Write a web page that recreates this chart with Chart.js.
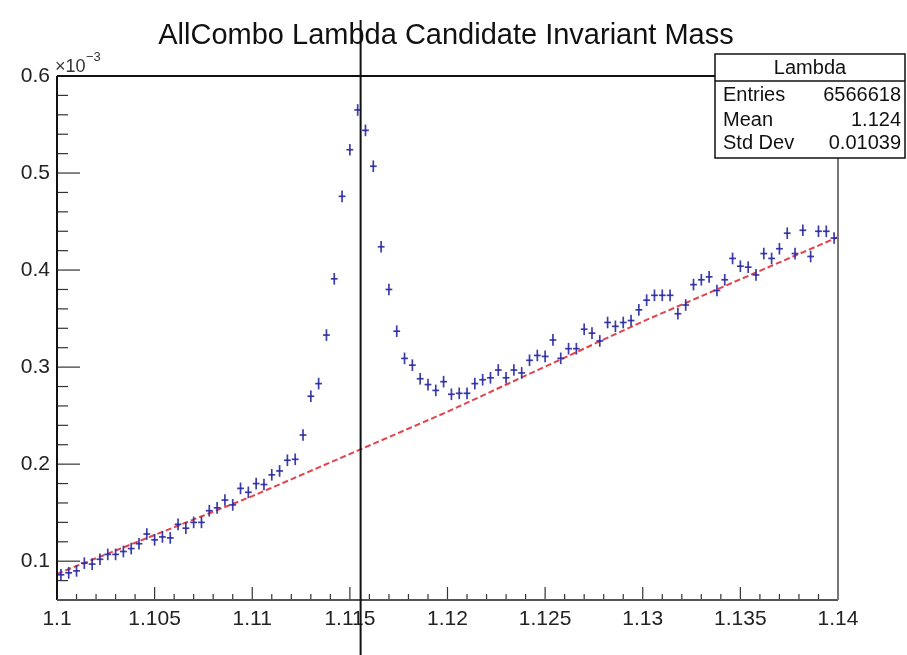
<!DOCTYPE html>
<html>
<head>
<meta charset="utf-8">
<script src="https://cdn.jsdelivr.net/npm/chart.js@4.4.1/dist/chart.umd.min.js"></script>
<style>
  body { margin: 0; background: #fff; }
  #c { display: block; }
</style>
</head>
<body>
<canvas id="c" width="907" height="655"></canvas>
<script>
// histogram: 100 bins from 1.1 to 1.14, values in units of 1e-3
const binLow = 1.1;
const binWidth = 0.0004;
const counts = [
  0.086, 0.088, 0.090, 0.098, 0.097, 0.102, 0.107, 0.107, 0.110, 0.113,
  0.118, 0.128, 0.122, 0.125, 0.124, 0.138, 0.134, 0.140, 0.140, 0.152,
  0.155, 0.163, 0.158, 0.175, 0.171, 0.180, 0.179, 0.189, 0.193, 0.204,
  0.205, 0.230, 0.270, 0.283, 0.333, 0.391, 0.476, 0.524, 0.565, 0.544,
  0.507, 0.424, 0.380, 0.337, 0.309, 0.302, 0.288, 0.282, 0.276, 0.285,
  0.272, 0.273, 0.273, 0.283, 0.287, 0.289, 0.297, 0.289, 0.297, 0.294,
  0.307, 0.312, 0.311, 0.328, 0.309, 0.319, 0.319, 0.339, 0.335, 0.327,
  0.346, 0.342, 0.346, 0.348, 0.359, 0.369, 0.374, 0.374, 0.374, 0.355,
  0.364, 0.385, 0.390, 0.393, 0.379, 0.390, 0.412, 0.404, 0.403, 0.395,
  0.417, 0.412, 0.422, 0.438, 0.417, 0.441, 0.414, 0.440, 0.440, 0.433
];
const yErr = 0.006;

// background fit (red line)
const fitX = [1.1, 1.11, 1.12, 1.13, 1.14];
const fitY = [0.087, 0.167, 0.254, 0.347, 0.434];

const xTicks = [1.1, 1.105, 1.11, 1.115, 1.12, 1.125, 1.13, 1.135, 1.14];
const yTicks = [0.1, 0.2, 0.3, 0.4, 0.5, 0.6];
const lambdaMass = 1.11555;

const title = 'AllCombo Lambda Candidate Invariant Mass';
const statTitle = 'Lambda';
const statNames = ['Entries', 'Mean', 'Std Dev'];
const statValues = ['6566618', '1.124', '0.01039'];

const FONT = '"Liberation Sans", Arial, sans-serif';

const points = counts.map((v, i) => ({ x: binLow + (i + 0.5) * binWidth, y: v }));
const fitLine = fitX.map((x, i) => ({ x: x, y: fitY[i] }));

function line(ctx, x1, y1, x2, y2) {
  ctx.beginPath();
  ctx.moveTo(x1, y1);
  ctx.lineTo(x2, y2);
  ctx.stroke();
}

const rootPlugin = {
  id: 'rootStyle',
  afterDatasetsDraw(chart) {
    const ctx = chart.ctx;
    const xs = chart.scales.x, ys = chart.scales.y;
    const a = chart.chartArea;
    ctx.save();

    // data points with error bars
    ctx.strokeStyle = 'rgba(40,40,160,0.9)';
    ctx.lineWidth = 1.7;
    points.forEach(p => {
      const px = xs.getPixelForValue(p.x);
      const py = ys.getPixelForValue(p.y);
      line(ctx, xs.getPixelForValue(p.x - binWidth / 2) + 0.5, py, xs.getPixelForValue(p.x + binWidth / 2) - 0.5, py);
      line(ctx, px, ys.getPixelForValue(p.y - yErr), px, ys.getPixelForValue(p.y + yErr));
    });

    // ticks
    ctx.strokeStyle = '#333';
    ctx.lineWidth = 1.2;
    for (let k = 0; k <= 40; k++) {
      const v = 1.1 + k * 0.001;
      const px = xs.getPixelForValue(v);
      const len = k % 5 === 0 ? 13 : 6;
      line(ctx, px, a.bottom, px, a.bottom - len);
    }
    for (let k = 3; k <= 30; k++) {
      const v = k * 0.02;
      const py = ys.getPixelForValue(v);
      const len = k % 5 === 0 ? 23 : 11;
      line(ctx, a.left, py, a.left + len, py);
    }

    // frame
    ctx.lineWidth = 2;
    ctx.strokeStyle = '#111';
    line(ctx, a.left, a.top, a.right, a.top);
    line(ctx, a.left, a.top, a.left, a.bottom);
    ctx.strokeStyle = '#555';
    line(ctx, a.left, a.bottom, a.right, a.bottom);
    ctx.strokeStyle = '#777';
    line(ctx, a.right, a.top, a.right, a.bottom);

    // lambda mass marker
    ctx.strokeStyle = '#111';
    ctx.lineWidth = 2;
    const lx = xs.getPixelForValue(lambdaMass);
    line(ctx, lx, 20, lx, chart.height);

    // title
    ctx.fillStyle = '#111';
    ctx.font = '29px ' + FONT;
    ctx.textAlign = 'center';
    ctx.textBaseline = 'middle';
    ctx.fillText(title, 446, 36);

    // exponent label
    ctx.textAlign = 'left';
    ctx.font = '18px ' + FONT;
    ctx.fillStyle = '#333';
    ctx.fillText('\u00d710', 55, 67);
    ctx.font = '13px ' + FONT;
    ctx.fillText('\u22123', 86, 57);

    // stats box
    const bx = 715, by = 54, bw = 190, bh = 104;
    ctx.fillStyle = '#fff';
    ctx.fillRect(bx, by, bw, bh);
    ctx.strokeStyle = '#111';
    ctx.lineWidth = 1.5;
    ctx.strokeRect(bx, by, bw, bh);
    line(ctx, bx, 81, bx + bw, 81);
    ctx.fillStyle = '#111';
    ctx.font = '20px ' + FONT;
    ctx.textAlign = 'center';
    ctx.fillText(statTitle, 810, 68);
    const rowY = [95, 120, 143];
    statNames.forEach((n, i) => {
      ctx.textAlign = 'left';
      ctx.fillText(n, 723, rowY[i]);
      ctx.textAlign = 'right';
      ctx.fillText(statValues[i], 901, rowY[i]);
    });

    ctx.restore();
  }
};

new Chart(document.getElementById('c'), {
  type: 'scatter',
  data: {
    datasets: [
      {
        label: 'Lambda',
        data: points,
        pointRadius: 0,
        showLine: false
      },
      {
        type: 'line',
        label: 'fit',
        data: fitLine,
        borderColor: 'rgba(225,45,55,0.9)',
        borderWidth: 2,
        borderDash: [6, 3],
        pointRadius: 0,
        tension: 0
      }
    ]
  },
  options: {
    responsive: false,
    animation: false,
    layout: { padding: { left: 0, top: 76, right: 69, bottom: 0 } },
    plugins: {
      legend: { display: false },
      tooltip: { enabled: false }
    },
    scales: {
      x: {
        type: 'linear',
        min: 1.1,
        max: 1.14,
        afterBuildTicks: s => { s.ticks = xTicks.map(v => ({ value: v })); },
        afterFit: s => { s.height = 55; },
        grid: { display: false, drawTicks: false },
        border: { display: false },
        ticks: {
          autoSkip: false,
          maxRotation: 0,
          padding: 7,
          color: '#222',
          font: { family: FONT, size: 21 },
          callback: v => String(parseFloat(Number(v).toFixed(4)))
        }
      },
      y: {
        type: 'linear',
        min: 0.06,
        max: 0.6,
        afterBuildTicks: s => { s.ticks = yTicks.map(v => ({ value: v })); },
        afterFit: s => { s.width = 57; },
        grid: { display: false, drawTicks: false },
        border: { display: false },
        ticks: {
          padding: 7,
          color: '#222',
          font: { family: FONT, size: 21 },
          callback: v => String(parseFloat(Number(v).toFixed(2)))
        }
      }
    }
  },
  plugins: [rootPlugin]
});
</script>
</body>
</html>
